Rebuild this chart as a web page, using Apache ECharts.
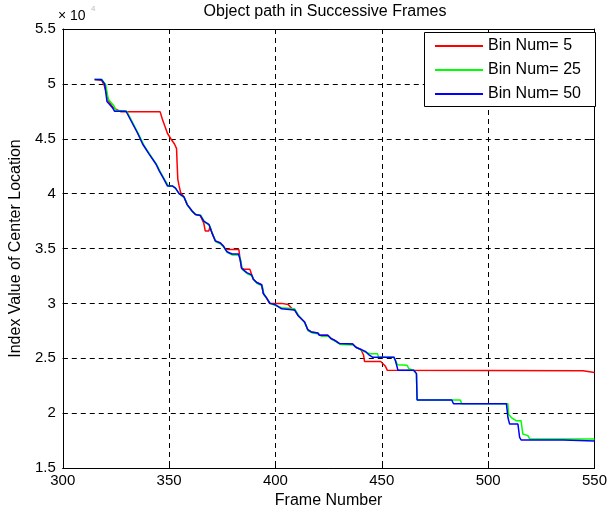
<!DOCTYPE html>
<html>
<head>
<meta charset="utf-8">
<script src="https://cdn.jsdelivr.net/npm/echarts@6/dist/echarts.min.js"></script>
<style>
  html, body { margin: 0; padding: 0; background: #fff; }
  #chart { width: 610px; height: 514px; }
</style>
</head>
<body>
<div id="chart"></div>
<script>
// axis ticks (values shown in units of 10^4)
var xTicks = [300, 350, 400, 450, 500, 550];
var yTicks = [1.5, 2, 2.5, 3, 3.5, 4, 4.5, 5, 5.5];

var seriesNames = ["Bin Num= 5", "Bin Num= 25", "Bin Num= 50"];
var seriesColors = ["#ff0000", "#00ff00", "#0000ff"];

// [frame, index value / 10^4]
var bin5 = [
  [315.0,5.04],[318.4,5.03],[319.4,4.99],[320.4,4.93],[321.4,4.85],[323.4,4.79],[325.0,4.77],
  [327.4,4.745],[345.8,4.745],[346.8,4.68],[347.9,4.62],[349.2,4.55],[350.8,4.50],[352.6,4.45],
  [353.5,4.41],[353.8,4.26],[354.1,4.13],[354.7,4.07],[355.4,4.01],[357.0,3.97],[358.5,3.90],
  [360.9,3.84],[362.4,3.81],[364.7,3.80],[366.3,3.73],[367.0,3.66],[368.7,3.66],[369.2,3.70],
  [370.2,3.64],[371.7,3.57],[374.1,3.55],[375.6,3.52],[376.6,3.49],[382.8,3.49],[383.4,3.40],
  [384.1,3.32],[385.6,3.31],[388.0,3.31],[388.8,3.26],[389.6,3.22],[391.2,3.19],[393.5,3.17],
  [394.3,3.09],[395.8,3.05],[397.2,3.00],[402.9,3.00],[406.0,2.99],[407.8,2.95],[409.0,2.94],
  [410.6,2.89],[413.7,2.83],[415.2,2.76],[416.8,2.74],[419.9,2.73],[420.7,2.71],[424.6,2.71],
  [426.1,2.68],[427.7,2.665],[430.0,2.635],[436.3,2.63],[437.8,2.60],[440.2,2.58],[441.4,2.53],
  [441.9,2.47],[449.5,2.47],[451.6,2.43],[452.6,2.39],[544.6,2.387],[545.1,2.37],[550,2.37]
];
var bin25 = [
  [315.0,5.04],[318.4,5.04],[320.2,4.99],[321.4,4.86],[324.0,4.80],[325.0,4.76],[330.1,4.75],
  [330.9,4.72],[335.7,4.54],[338.2,4.44],[341.2,4.35],[344.3,4.26],[345.8,4.20],[348.1,4.12],
  [349.7,4.07],[351.5,4.07],[353.0,4.05],[354.7,4.00],[357.3,3.96],[358.8,3.89],[361.2,3.83],
  [362.8,3.81],[365.0,3.80],[366.7,3.74],[369.0,3.71],[370.5,3.63],[372.0,3.56],[374.4,3.54],
  [375.9,3.51],[377.6,3.46],[379.9,3.44],[382.9,3.44],[383.7,3.39],[384.4,3.31],[386.8,3.27],
  [389.0,3.25],[390.0,3.21],[391.5,3.18],[393.8,3.16],[394.6,3.08],[396.1,3.04],[397.7,3.00],
  [400.0,2.98],[402.9,2.96],[409.0,2.95],[410.9,2.89],[413.9,2.82],[415.4,2.75],[417.5,2.73],
  [420.5,2.72],[421.6,2.70],[425.1,2.70],[426.6,2.67],[428.2,2.655],[430.7,2.625],[436.6,2.62],
  [438.4,2.595],[440.7,2.57],[442.9,2.55],[445.0,2.54],[448.0,2.54],[448.5,2.51],[455.7,2.51],
  [456.4,2.48],[457.4,2.44],[461.9,2.436],[462.7,2.405],[465.0,2.39],[466.3,2.36],[466.6,2.12],
  [486.9,2.12],[487.6,2.085],[509.3,2.085],[509.6,1.99],[510.9,1.96],[513.3,1.93],[515.5,1.93],
  [516.3,1.81],[518.7,1.795],[519.5,1.765],[550,1.765]
];
var bin50 = [
  [315.0,5.04],[318.1,5.04],[319.7,5.00],[320.8,4.84],[323.5,4.78],[324.4,4.75],[329.8,4.75],
  [330.3,4.73],[335.2,4.55],[337.6,4.45],[340.6,4.36],[343.8,4.27],[345.3,4.21],[347.6,4.13],
  [349.2,4.07],[351.5,4.07],[353.0,4.05],[354.7,4.00],[357.0,3.97],[358.5,3.90],[360.9,3.84],
  [362.4,3.81],[364.7,3.80],[366.3,3.75],[368.7,3.72],[370.2,3.64],[371.7,3.57],[374.1,3.55],
  [375.6,3.52],[377.2,3.47],[379.6,3.45],[382.6,3.45],[383.4,3.40],[384.1,3.32],[386.5,3.28],
  [388.8,3.26],[389.6,3.22],[391.2,3.19],[393.5,3.17],[394.3,3.09],[395.8,3.05],[397.4,3.00],
  [399.7,2.99],[402.9,2.95],[409.0,2.94],[410.6,2.89],[413.7,2.83],[415.2,2.76],[416.8,2.74],
  [419.9,2.73],[420.7,2.71],[424.6,2.71],[426.1,2.68],[427.7,2.665],[430.0,2.635],[436.3,2.63],
  [437.8,2.60],[440.2,2.58],[442.5,2.56],[444.0,2.53],[445.6,2.51],[455.7,2.51],[456.4,2.48],
  [457.3,2.47],[457.6,2.39],[465.0,2.39],[466.3,2.36],[466.6,2.12],[482.9,2.12],[483.7,2.085],
  [508.6,2.085],[509.3,1.96],[510.1,1.90],[514.0,1.90],[514.8,1.78],[515.5,1.755],[535.4,1.755],
  [535.9,1.745],[550,1.745]
];

var font = "'Liberation Sans', Arial, sans-serif";
var chart = echarts.init(document.getElementById('chart'));

function fmt(v) { return String(Math.round(v * 10) / 10); }

var dashed = { show: true, lineStyle: { color: '#000', type: [5, 4], width: 1 } };
var axisLine = { show: true, lineStyle: { color: '#000', width: 1 } };
var inTick = { show: true, inside: true, length: 5, lineStyle: { color: '#000' } };

chart.setOption({
  animation: false,
  backgroundColor: '#fff',
  grid: { left: 60, right: 14, top: 29, bottom: 46 },
  graphic: [
    { type: 'text', x: 325, y: 4, z: 10,
      style: { text: 'Object path in Successive Frames', font: '16px ' + font, fill: '#000', align: 'center' } },
    { type: 'text', x: 58, y: 9, z: 10,
      style: { text: '× 10', font: '14px ' + font, fill: '#000' } },
    { type: 'text', x: 91, y: 5, z: 10,
      style: { text: '4', font: '8px ' + font, fill: '#bbb' } },
    { type: 'rect', z: 3, shape: { x: 424.5, y: 32.5, width: 171, height: 74 },
      style: { fill: '#fff', stroke: '#000', lineWidth: 1 } }
  ],
  legend: {
    data: seriesNames,
    orient: 'vertical',
    left: 435, top: 38,
    padding: 0,
    icon: 'rect',
    itemWidth: 48, itemHeight: 2,
    itemGap: 8,
    z: 5,
    textStyle: { fontFamily: font, fontSize: 16, color: '#000', lineHeight: 16 }
  },
  xAxis: [{
    type: 'value', min: xTicks[0], max: xTicks[xTicks.length - 1], interval: 50,
    name: 'Frame Number', nameLocation: 'middle', nameGap: 25,
    nameTextStyle: { fontFamily: font, fontSize: 16, color: '#000' },
    axisLine: axisLine, axisTick: inTick,
    axisLabel: { fontFamily: font, fontSize: 15, color: '#000', margin: 5 },
    splitLine: dashed
  }, {
    type: 'value', position: 'top', min: xTicks[0], max: xTicks[xTicks.length - 1], interval: 50,
    axisLine: axisLine, axisTick: inTick,
    axisLabel: { show: false }, splitLine: { show: false }
  }],
  yAxis: [{
    type: 'value', min: yTicks[0], max: yTicks[yTicks.length - 1], interval: 0.5,
    name: 'Index Value of Center Location', nameLocation: 'middle', nameGap: 33,
    nameTextStyle: { fontFamily: font, fontSize: 16, color: '#000' },
    axisLine: axisLine, axisTick: inTick,
    axisLabel: { fontFamily: font, fontSize: 15, color: '#000', margin: 7, formatter: fmt },
    splitLine: dashed
  }, {
    type: 'value', position: 'right', min: yTicks[0], max: yTicks[yTicks.length - 1], interval: 0.5,
    axisLine: axisLine, axisTick: inTick,
    axisLabel: { show: false }, splitLine: { show: false }
  }],
  series: [bin5, bin25, bin50].map(function (d, i) {
    return {
      name: seriesNames[i], type: 'line', data: d,
      showSymbol: false, symbol: 'none',
      lineStyle: { color: seriesColors[i], width: 1.5 },
      itemStyle: { color: seriesColors[i] },
      z: 2 + i
    };
  })
});
</script>
</body>
</html>
